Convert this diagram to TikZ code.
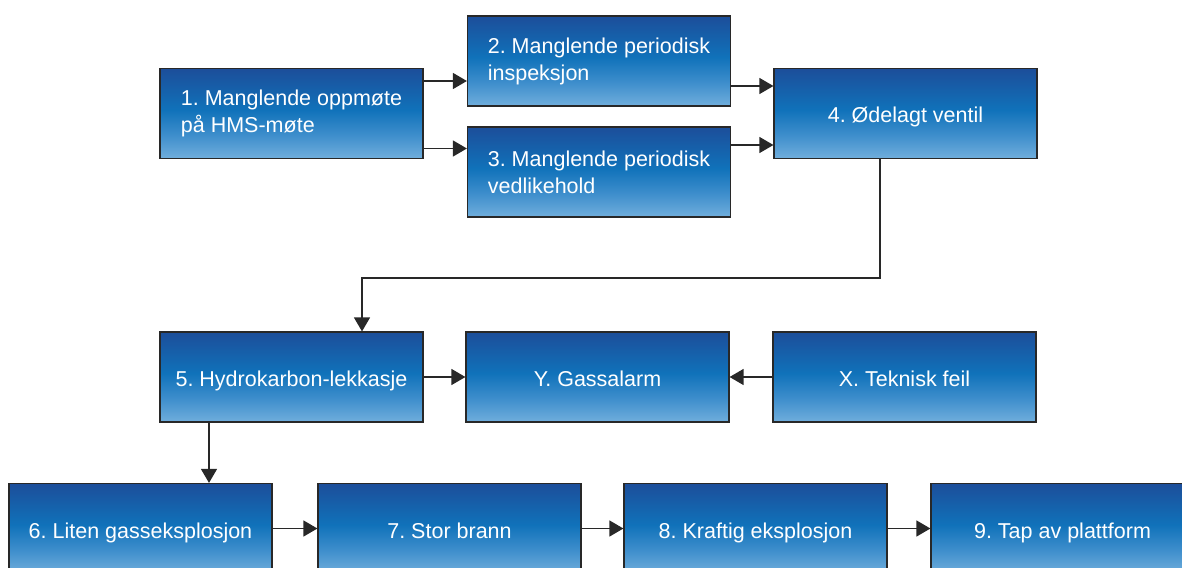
\documentclass[tikz,border=0pt]{standalone}
\usepackage{fontspec}
\setmainfont{Liberation Sans}
\usetikzlibrary{arrows.meta}

\definecolor{boxtop}{RGB}{28,78,154}
\definecolor{boxmid}{RGB}{16,114,186}
\definecolor{boxlow}{RGB}{62,142,204}
\definecolor{boxbot}{RGB}{112,174,220}
\definecolor{edge}{RGB}{40,40,40}

% vertical fill of the boxes: navy at the top, bright blue in the middle, light blue at the bottom
\pgfdeclareverticalshading{boxfill}{100bp}{color(0bp)=(boxbot); color(25bp)=(boxbot); color(38bp)=(boxlow); color(52bp)=(boxmid); color(75bp)=(boxtop); color(100bp)=(boxtop)}

\tikzset{
  box/.style={draw=edge, line width=1.2pt, shade, shading=boxfill,
    minimum width=263pt, minimum height=90pt, inner sep=0pt,
    text=white, font=\fontsize{21.5}{27}\selectfont\frenchspacing},
  one/.style={box, align=center, text height=19.5pt, text depth=0.5pt},
  two/.style={box, align=left},
  arr/.style={draw=edge, line width=1.4pt, -{Triangle[length=14pt,width=16pt]}},
}

\begin{document}
\begin{tikzpicture}[x=1pt, y=-1pt]
  \path[use as bounding box] (0,0) rectangle (1182,567);
  \clip (0,0) rectangle (1182,567);

  % causes
  \node[two] (n1) at (291.5,113.5) {1. Manglende oppmøte\\på HMS-møte};
  \node[two] (n2) at (599,61) {2. Manglende periodisk\\inspeksjon};
  \node[two] (n3) at (599,172) {3. Manglende periodisk\\vedlikehold};
  \node[one] (n4) at (905.5,113.5) {4. Ødelagt ventil};

  % middle row
  \node[one] (n5) at (291.5,377) {5. Hydrokarbon-lekkasje};
  \node[one] (ny) at (597.5,377) {Y. Gassalarm};
  \node[one] (nx) at (904.5,377) {X. Teknisk feil};

  % consequences
  \node[one] (n6) at (140.5,528.5) {6. Liten gasseksplosjon};
  \node[one] (n7) at (449.5,528.5) {7. Stor brann};
  \node[one] (n8) at (755.5,528.5) {8. Kraftig eksplosjon};
  \node[one] (n9) at (1062.5,528.5) {9. Tap av plattform};

  % connectors
  \coordinate (o12) at ([yshift=32.5pt]n1.east);
  \coordinate (o13) at ([yshift=-35pt]n1.east);
  \draw[arr] (o12) -- (o12 -| n2.west);
  \draw[arr] (o13) -- (o13 -| n3.west);

  \coordinate (o24) at ([yshift=-25pt]n2.east);
  \coordinate (o34) at ([yshift=27pt]n3.east);
  \draw[arr] (o24) -- (o24 -| n4.west);
  \draw[arr] (o34) -- (o34 -| n4.west);

  \coordinate (o45) at ([xshift=-25.5pt]n4.south);
  \coordinate (i45) at ([xshift=70.5pt]n5.north);
  \draw[arr] (o45) -- ++(0,119) -| (i45);

  \coordinate (o56) at ([xshift=-82.5pt]n5.south);
  \draw[arr] (o56) -- (o56 |- n6.north);

  \draw[arr] (n5) -- (ny);
  \draw[arr] (nx) -- (ny);

  \draw[arr] (n6) -- (n7);
  \draw[arr] (n7) -- (n8);
  \draw[arr] (n8) -- (n9);
\end{tikzpicture}
\end{document}
